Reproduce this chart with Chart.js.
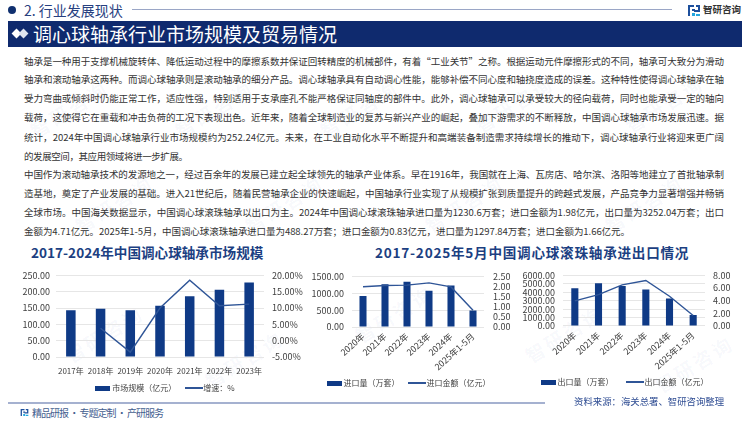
<!DOCTYPE html>
<html lang="zh-CN">
<head>
<meta charset="utf-8">
<script src="https://cdn.jsdelivr.net/npm/chart.js@4"></script>
<style>
html,body{margin:0;padding:0;background:#fff;}
body{width:750px;height:421px;position:relative;overflow:hidden;font-family:"Noto Sans CJK SC","Noto Sans",sans-serif;}
.abs{position:absolute;white-space:nowrap;}
.ln{position:absolute;left:24px;font-size:9.5px;line-height:14px;height:14px;color:#333;white-space:nowrap;}
.wm{position:absolute;font-size:19px;font-weight:700;letter-spacing:3px;color:rgba(40,90,170,.045);transform:rotate(-32deg);white-space:nowrap;}
canvas{position:absolute;}
</style>
</head>
<body>
<div id="wms"></div>

<div class="abs" style="left:8px;top:6px;width:8px;height:8px;border-radius:50%;background:#10306f;"></div>
<div class="abs" style="left:24px;top:0;font-size:14px;line-height:20px;color:#27407f;">2. 行业发展现状</div>
<div class="abs" style="left:132px;top:9px;width:540px;height:1px;background:#9aa6c6;"></div>
<svg class="abs" style="left:687px;top:4px;" width="14" height="13" viewBox="0 0 14 13"><path d="M1 1h6v2H3v9H1zM5 5h3v2H5z" fill="#1d4f9c"/><path d="M9 1h4v7H7V6h4V3H9z" fill="#1d4f9c"/><path d="M5 9h3v3H5zM9 10h4v2H9z" fill="#23a6df"/></svg>
<div class="abs" style="left:703px;top:0;font-size:9.5px;line-height:18px;font-weight:700;color:#333;">智研咨询</div>

<div class="abs" style="left:8px;top:21px;width:734px;height:26px;background:#0f2a6e;"></div>
<div class="abs" style="left:13px;top:30px;width:7px;height:7px;background:#fff;transform:rotate(45deg);"></div>
<div class="abs" style="left:20px;top:30px;width:7px;height:7px;background:#dfe4ef;transform:rotate(45deg);"></div>
<div class="abs" style="left:33px;top:21px;font-size:19px;line-height:26px;color:#fff;">调心球轴承行业市场规模及贸易情况</div>

<div id="body"></div>

<div class="abs" style="left:31px;top:242px;font-size:13.6px;line-height:20px;font-weight:700;color:#1c3f82;">2017-2024年中国调心球轴承市场规模</div>
<div class="abs" style="left:375px;top:242px;font-size:13.6px;line-height:20px;font-weight:700;letter-spacing:.75px;color:#1c3f82;">2017-2025年5月中国调心球滚珠轴承进出口情况</div>

<canvas id="c1" style="left:20px;top:262px;" width="292" height="140"></canvas>
<canvas id="c2" style="left:305px;top:262px;" width="209" height="135"></canvas>
<canvas id="c3" style="left:518px;top:262px;" width="215" height="134"></canvas>

<div class="abs" style="left:8px;top:402px;width:537px;height:2px;background:#a5b1d0;"></div>
<svg class="abs" style="left:20px;top:408px;" width="9" height="9" viewBox="0 0 14 13"><path d="M1 1h6v2H3v9H1zM5 5h3v2H5z" fill="#1d4f9c"/><path d="M9 1h4v7H7V6h4V3H9z" fill="#1d4f9c"/><path d="M5 9h3v3H5zM9 10h4v2H9z" fill="#23a6df"/></svg>
<div class="abs" id="foot" style="left:32px;top:405px;font-size:10px;line-height:15px;color:#44608f;">精品研报 · 专题定制 · 产研服务</div>
<div class="abs" style="left:574px;top:394px;font-size:9.4px;line-height:15px;color:#2f4d93;">资料来源：海关总署、智研咨询整理</div>

<script>
const bodyLines = [
"轴承是一种用于支撑机械旋转体、降低运动过程中的摩擦系数并保证回转精度的机械部件，有着“工业关节”之称。根据运动元件摩擦形式的不同，轴承可大致分为滑动",
"轴承和滚动轴承这两种。而调心球轴承则是滚动轴承的细分产品。调心球轴承具有自动调心性能，能够补偿不同心度和轴挠度造成的误差。这种特性使得调心球轴承在轴",
"受力弯曲或倾斜时仍能正常工作，适应性强，特别适用于支承座孔不能严格保证同轴度的部件中。此外，调心球轴承可以承受较大的径向载荷，同时也能承受一定的轴向",
"载荷，这使得它在重载和冲击负荷的工况下表现出色。近年来，随着全球制造业的复苏与新兴产业的崛起，叠加下游需求的不断释放，中国调心球轴承市场发展迅速。据",
"统计，2024年中国调心球轴承行业市场规模约为252.24亿元。未来，在工业自动化水平不断提升和高端装备制造需求持续增长的推动下，调心球轴承行业将迎来更广阔",
"的发展空间，其应用领域将进一步扩展。",
"中国作为滚动轴承技术的发源地之一，经过百余年的发展已建立起全球领先的轴承产业体系。早在1916年，我国就在上海、瓦房店、哈尔滨、洛阳等地建立了首批轴承制",
"造基地，奠定了产业发展的基础。进入21世纪后，随着民营轴承企业的快速崛起，中国轴承行业实现了从规模扩张到质量提升的跨越式发展，产品竞争力显著增强并畅销",
"全球市场。中国海关数据显示，中国调心球滚珠轴承以出口为主。2024年中国调心球滚珠轴承进口量为1230.6万套；进口金额为1.98亿元，出口量为3252.04万套；出口",
"金额为4.71亿元。2025年1-5月，中国调心球滚珠轴承进口量为488.27万套；进口金额为0.83亿元，进口量为1297.84万套；进口金额为1.66亿元。"
];
const lineTops = [54,72,91,110,130,149,167,186,205,224];
const lineWidths = [700,700,700,700,700,164,700,700,700,606];

const yearsA = ["2017年","2018年","2019年","2020年","2021年","2022年","2023年"];
const marketSize = [143,148,143,157,186,206,228];
const growthRate = [null,3.8,-3.5,10,18.5,10.7,11.2];

const yearsB = ["2020年","2021年","2022年","2023年","2024年","2025年1-5月"];
const importQty = [917,1268,1343,1074,1230.6,488.27];
const importAmt = [1.99,2.05,2.07,2.18,1.98,0.83];
const exportQty = [4472,5068,4733,4323,3252.04,1297.84];
const exportAmt = [3.97,4.97,6.5,7.2,4.71,1.66];

function fitWidth(el,w){
  const natural=el.getBoundingClientRect().width;
  const n=el.textContent.length;
  el.style.letterSpacing=((w-natural)/(n-1)).toFixed(3)+'px';
}
const host = document.getElementById('body');
bodyLines.forEach((t,i)=>{
  const d=document.createElement('div');
  d.className='ln';
  d.style.top=lineTops[i]+'px';
  d.textContent=t;
  host.appendChild(d);
  fitWidth(d,lineWidths[i]);
});
fitWidth(document.getElementById('foot'),132);

const wms=document.getElementById('wms');
[[25,95],[170,95],[315,95],[470,90],[620,90],[70,190],[240,190],[420,190],[600,190],[60,320],[200,345],[350,300],[520,320],[650,350]].forEach(p=>{
  const w=document.createElement('div');w.className='wm';w.setAttribute('aria-hidden','true');
  w.style.left=p[0]+'px';w.style.top=p[1]+'px';w.textContent='智研咨询';wms.appendChild(w);
});

const FONT='"Noto Sans CJK SC","Noto Sans",sans-serif';
const BAR='#0f3a86', LINE='#2f5597', GRID='#e6e6e6', TXT='#404040';
function swatch(w,h,c){const s=document.createElement('canvas');s.width=w;s.height=h;const x=s.getContext('2d');x.fillStyle=c;x.fillRect(0,0,w,h);return s;}
const swBar=swatch(15,5,BAR), swLine=swatch(18,2,LINE);

function makeChart(id,o){
  const cv=document.getElementById(id);
  return new Chart(cv,{
    data:{labels:o.labels,datasets:[
      {type:'line',label:o.lineName,data:o.line,yAxisID:'y2',borderColor:LINE,borderWidth:1.4,pointRadius:0,tension:0,fill:false,order:0,spanGaps:false},
      {type:'bar',label:o.barName,data:o.bar,yAxisID:'y1',backgroundColor:BAR,barPercentage:o.barPct,categoryPercentage:1,order:1}
    ]},
    options:{
      responsive:false,animation:false,
      layout:{padding:{top:o.plotTop,left:0,right:0,bottom:0}},
      plugins:{
        title:{display:false},tooltip:{enabled:false},
        legend:{position:'bottom',labels:{
          usePointStyle:true,pointStyleWidth:11,padding:o.legendGap,color:TXT,font:{family:FONT,size:8},
          generateLabels(ch){
            return ch.data.datasets.map((d,i)=>({text:d.label,datasetIndex:i,pointStyle:d.type==='bar'?swBar:swLine,fillStyle:d.type==='bar'?BAR:LINE,strokeStyle:'transparent',lineWidth:0,fontColor:TXT,hidden:false})).reverse();
          }
        }}
      },
      scales:{
        x:{grid:{display:false,drawTicks:false},border:{display:false},
          ticks:{autoSkip:false,color:TXT,padding:o.xPad,minRotation:o.rot,maxRotation:o.rot,font:{family:FONT,size:o.xSize}},
          afterFit(s){
            s.height=cv.height-o.plotBottom-(s.chart.legend?s.chart.legend.height:0);
            s._computeLabelArea=()=>undefined;
          }},
        y1:{position:'left',min:o.y1[0],max:o.y1[1],grid:{color:GRID,lineWidth:1,drawTicks:false},border:{display:false},
          ticks:{autoSkip:false,stepSize:o.y1[2],color:TXT,padding:o.yPadL,font:{family:FONT,size:9},callback:v=>Number(v).toFixed(2)},
          afterFit(s){s.width=o.wL;}},
        y2:{position:'right',min:o.y2[0],max:o.y2[1],grid:{display:false,drawTicks:false},border:{display:false},
          ticks:{autoSkip:false,stepSize:o.y2[2],color:TXT,padding:o.yPadR,font:{family:FONT,size:9},callback:v=>Number(v).toFixed(2)+o.suffix},
          afterFit(s){s.width=o.wR;}}
      }
    }
  });
}
makeChart('c1',{labels:yearsA,bar:marketSize,line:growthRate,barName:'市场规模（亿元）',lineName:'增速：%',
  plotTop:11,plotBottom:95,barPct:.32,legendGap:12,xPad:9,rot:0,xSize:8,yPadL:6,yPadR:8,wL:36,wR:48,
  y1:[0,250,50],y2:[-5,20,5],suffix:'%'});
makeChart('c2',{labels:yearsB,bar:importQty,line:importAmt,barName:'进口量（万套）',lineName:'进口金额（亿元）',
  plotTop:11,plotBottom:65,barPct:.32,legendGap:12,xPad:4,rot:42,xSize:8.8,yPadL:8,yPadR:9,wL:47,wR:30,
  y1:[0,1500,500],y2:[0,2.5,.5],suffix:''});
makeChart('c3',{labels:yearsB,bar:exportQty,line:exportAmt,barName:'出口量（万套）',lineName:'出口金额（亿元）',
  plotTop:10,plotBottom:64,barPct:.3,legendGap:16,xPad:4,rot:42,xSize:8.8,yPadL:8,yPadR:8,wL:45,wR:28,
  y1:[0,6000,1000],y2:[0,8,2],suffix:''});
</script>
</body>
</html>
